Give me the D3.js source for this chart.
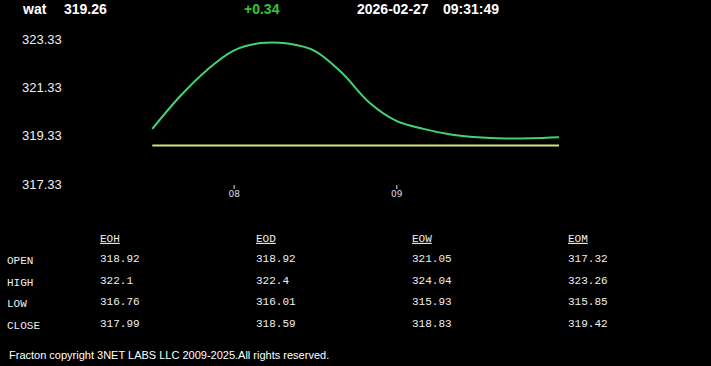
<!DOCTYPE html>
<html>
<head>
<meta charset="utf-8">
<script src="https://cdn.jsdelivr.net/npm/d3@7"></script>
<style>
  html, body { margin: 0; padding: 0; background: #000; }
  svg { display: block; }
</style>
</head>
<body>
<svg id="chart" width="711" height="366"></svg>
<script>
// ---- data ----
const symbol = "wat";
const lastPrice = "319.26";
const change = "+0.34";
const dateText = "2026-02-27";
const timeText = "09:31:49";

const times = ["07:30","07:40","07:50","08:00","08:10","08:20","08:30","08:40","08:50",
               "09:00","09:10","09:20","09:30","09:40","09:50","10:00"];
const prices = [319.61, 320.93, 322.03, 322.85, 323.16, 323.14, 322.83, 321.92, 320.70,
                319.94, 319.61, 319.38, 319.26, 319.21, 319.22, 319.26];
const baselineValue = 318.92;

const yTickValues = [323.33, 321.33, 319.33, 317.33];
const xTickLabels = ["08", "09"];

const tableColumns = ["EOH", "EOD", "EOW", "EOM"];
const tableRows = ["OPEN", "HIGH", "LOW", "CLOSE"];
const colEOH = ["318.92", "322.1", "316.76", "317.99"];
const colEOD = ["318.92", "322.4", "316.01", "318.59"];
const colEOW = ["321.05", "324.04", "315.93", "318.83"];
const colEOM = ["317.32", "323.26", "315.85", "319.42"];

const copyright = "Fracton copyright 3NET LABS LLC 2009-2025.All rights reserved.";

// ---- drawing ----
const svg = d3.select("#chart");
const parse = d3.timeParse("%H:%M");
const series = times.map((t, i) => ({ t: parse(t), v: prices[i] }));

const x = d3.scaleTime()
  .domain([parse("07:30"), parse("10:00")])
  .range([152.3, 559]);
const y = d3.scaleLinear()
  .domain([317.33, 323.33])
  .range([184, 39]);

// header
const hdrFont = "Liberation Sans, Arial, sans-serif";
const hdr = svg.append("g").attr("font-family", hdrFont).attr("font-weight", "bold").attr("font-size", 14);
hdr.append("text").attr("x", 23).attr("y", 14).attr("fill", "#fff").text(symbol);
hdr.append("text").attr("x", 64).attr("y", 14).attr("fill", "#fff").text(lastPrice);
hdr.append("text").attr("x", 244).attr("y", 14).attr("fill", "#33c633").text(change);
hdr.append("text").attr("x", 357).attr("y", 14).attr("fill", "#fff").text(dateText);
hdr.append("text").attr("x", 443).attr("y", 14).attr("fill", "#fff").text(timeText);

// y labels
svg.append("g").selectAll("text").data(yTickValues).join("text")
  .attr("x", 22).attr("y", d => y(d)).attr("dy", "0.35em")
  .attr("font-family", hdrFont).attr("font-size", 13).attr("fill", "#f0f0f0")
  .text(d => d.toFixed(2));

// x axis
const xAxis = d3.axisBottom(x)
  .tickValues(xTickLabels.map(h => parse(h + ":00")))
  .tickFormat((d, i) => xTickLabels[i])
  .tickSize(4).tickPadding(2);
const gx = svg.append("g").attr("transform", "translate(0,185)").call(xAxis);
gx.select(".domain").remove();
gx.selectAll(".tick line").attr("stroke", "#ddd");
gx.selectAll(".tick text").attr("fill", "#d8dce8").attr("font-size", 9)
  .attr("font-family", "DejaVu Sans, sans-serif");

// baseline
svg.append("line")
  .attr("x1", x.range()[0]).attr("x2", x.range()[1])
  .attr("y1", y(baselineValue)).attr("y2", y(baselineValue))
  .attr("stroke", "#d6df82").attr("stroke-width", 2);

// price line
const line = d3.line().x(d => x(d.t)).y(d => y(d.v)).curve(d3.curveCatmullRom.alpha(0.5));
svg.append("path").datum(series)
  .attr("d", line).attr("fill", "none")
  .attr("stroke", "#45d274").attr("stroke-width", 2);

// table
const mono = "Liberation Mono, DejaVu Sans Mono, monospace";
const colX = d3.scalePoint().domain(tableColumns).range([100, 568]);
const rowY = d3.scalePoint().domain(tableRows).range([259, 324]);
const tbl = svg.append("g").attr("font-family", mono).attr("font-size", 11).attr("fill", "#f0f0f0");
tbl.selectAll("text.hdr").data(tableColumns).join("text")
  .attr("class", "hdr").attr("x", d => colX(d)).attr("y", 238).attr("dy", "0.35em")
  .attr("text-decoration", "underline").text(d => d);
tbl.selectAll("text.row").data(tableRows).join("text")
  .attr("class", "row").attr("x", 7).attr("y", d => rowY(d) + 1).attr("dy", "0.35em").text(d => d);
const cols = [colEOH, colEOD, colEOW, colEOM];
cols.forEach((col, ci) => {
  tbl.selectAll("text.c" + ci).data(col).join("text")
    .attr("class", "c" + ci)
    .attr("x", colX(tableColumns[ci]))
    .attr("y", (d, i) => rowY(tableRows[i]) - 1).attr("dy", "0.35em")
    .text(d => d);
});

// footer
svg.append("text").attr("x", 9).attr("y", 359)
  .attr("font-family", hdrFont).attr("font-size", 11).attr("fill", "#fff")
  .text(copyright);
</script>
</body>
</html>
